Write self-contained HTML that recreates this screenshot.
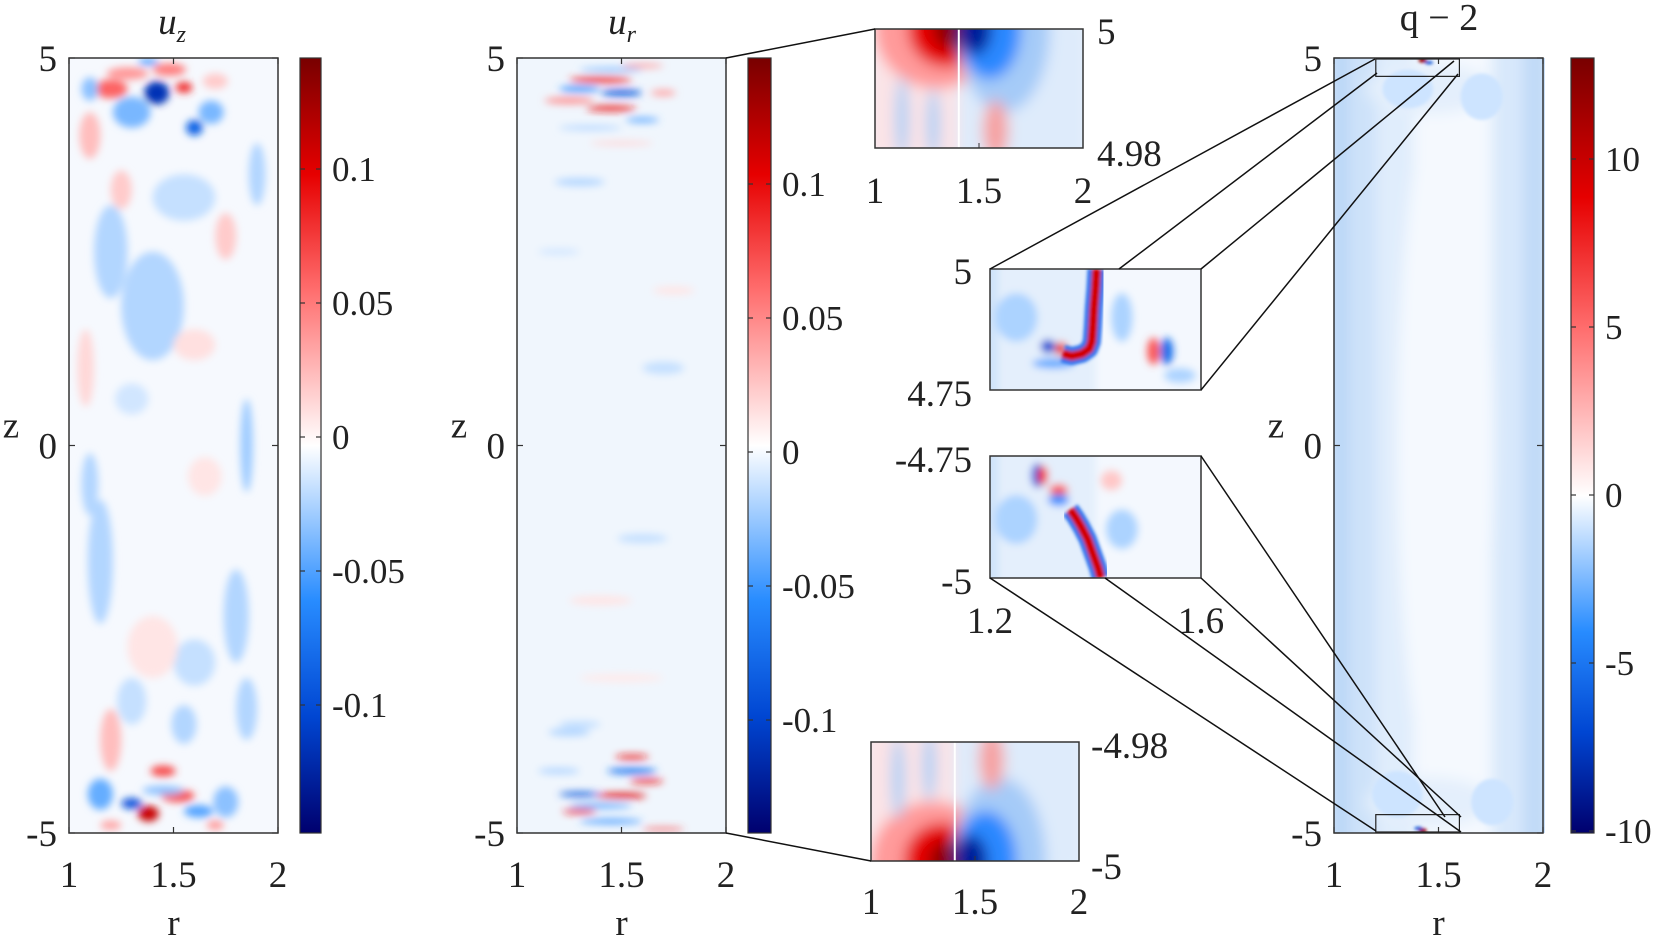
<!DOCTYPE html>
<html><head><meta charset="utf-8"><style>
html,body{margin:0;padding:0;background:#fff;}
svg{display:block;font-family:"Liberation Serif",serif;}
</style></head><body>
<svg id="fig" width="1661" height="941" viewBox="0 0 1661 941" xmlns="http://www.w3.org/2000/svg">
<defs>
<filter id="blur3" x="-20%" y="-20%" width="140%" height="140%"><feGaussianBlur stdDeviation="4"/></filter>
<filter id="blur6" x="-20%" y="-20%" width="140%" height="140%"><feGaussianBlur stdDeviation="7"/></filter>
<filter id="blur1" x="-20%" y="-20%" width="140%" height="140%"><feGaussianBlur stdDeviation="1.5"/></filter>
<linearGradient id="cbar" x1="0" y1="1" x2="0" y2="0">
<stop offset="0" stop-color="#00006e"/><stop offset="0.15" stop-color="#0046d2"/><stop offset="0.3" stop-color="#288cff"/><stop offset="0.5" stop-color="#ffffff"/><stop offset="0.7" stop-color="#ff6e6e"/><stop offset="0.85" stop-color="#e60000"/><stop offset="1" stop-color="#780000"/>
</linearGradient>
<linearGradient id="cbar3" x1="0" y1="1" x2="0" y2="0">
<stop offset="0" stop-color="#00006e"/><stop offset="0.13" stop-color="#0046d2"/><stop offset="0.26" stop-color="#288cff"/><stop offset="0.435" stop-color="#ffffff"/><stop offset="0.65" stop-color="#ff6e6e"/><stop offset="0.82" stop-color="#e60000"/><stop offset="1" stop-color="#780000"/>
</linearGradient>
<clipPath id="c1"><rect x="69" y="58" width="209" height="775"/></clipPath>
<clipPath id="c2"><rect x="517" y="58" width="209" height="775"/></clipPath>
<clipPath id="c3"><rect x="1334" y="58" width="211" height="775"/></clipPath>
<clipPath id="cti"><rect x="875" y="29" width="208" height="119"/></clipPath>
<clipPath id="cbi"><rect x="871" y="742" width="208" height="119"/></clipPath>
<clipPath id="cmu"><rect x="990" y="269" width="211" height="121"/></clipPath>
<clipPath id="cml"><rect x="990" y="456" width="211" height="122"/></clipPath>
</defs>
<g id="root"></g>
</svg>
<script>
// ---- data: blobs [r, z, rHalfWidth, zHalfHeight, value] ----
const uzBlobs = [
 [1.42,4.55,0.06,0.15,-0.11],[1.2,4.6,0.08,0.12,0.06],[1.55,4.62,0.04,0.07,0.08],[1.6,4.1,0.04,0.1,-0.08],
 [1.48,4.85,0.08,0.08,0.05],[1.3,4.3,0.09,0.2,-0.035],[1.68,4.3,0.06,0.15,-0.035],[1.1,4.0,0.05,0.3,0.025],
 [1.28,4.8,0.1,0.08,0.04],[1.38,4.95,0.05,0.04,-0.05],[1.7,4.7,0.06,0.1,0.02],[1.1,4.6,0.04,0.15,-0.03],
 [1.4,1.8,0.15,0.7,-0.02],[1.2,2.5,0.08,0.6,-0.02],[1.75,2.7,0.05,0.3,0.02],[1.85,0.0,0.03,0.6,-0.025],
 [1.55,3.2,0.15,0.3,-0.015],[1.25,3.3,0.05,0.25,0.02],[1.9,3.5,0.04,0.4,-0.02],[1.08,1.0,0.04,0.5,0.015],
 [1.6,1.3,0.1,0.2,0.012],[1.3,0.6,0.08,0.2,-0.012],[1.65,-0.4,0.08,0.25,0.01],[1.1,-0.5,0.04,0.4,-0.02],
 [1.15,-1.5,0.06,0.8,-0.02],[1.8,-2.2,0.06,0.6,-0.02],[1.6,-2.8,0.1,0.3,-0.015],[1.2,-3.8,0.05,0.4,0.025],
 [1.4,-2.6,0.12,0.4,0.01],[1.85,-3.4,0.05,0.4,-0.02],[1.3,-3.3,0.07,0.3,-0.015],
 [1.45,-4.2,0.06,0.07,0.07],[1.38,-4.75,0.05,0.1,0.11],[1.3,-4.62,0.05,0.07,-0.09],[1.52,-4.52,0.08,0.08,0.07],
 [1.62,-4.72,0.07,0.08,-0.045],[1.15,-4.5,0.06,0.2,-0.04],[1.75,-4.6,0.06,0.2,-0.03],[1.7,-4.9,0.04,0.06,0.04],
 [1.2,-4.9,0.05,0.06,0.035],[1.55,-3.6,0.06,0.25,-0.02],[1.45,-4.45,0.1,0.06,-0.03]
];
const urBlobs = [
 [1.4,4.72,0.15,0.04,0.08],[1.5,4.55,0.1,0.04,-0.09],[1.45,4.35,0.12,0.035,0.09],[1.3,4.6,0.1,0.04,-0.05],
 [1.6,4.2,0.08,0.03,-0.045],[1.25,4.45,0.12,0.04,0.045],[1.6,4.9,0.1,0.03,0.035],[1.7,4.55,0.06,0.04,0.035],
 [1.45,4.85,0.15,0.03,-0.03],[1.35,4.1,0.15,0.03,-0.02],[1.5,3.9,0.15,0.03,0.015],
 [1.3,3.4,0.12,0.05,-0.02],[1.7,1.0,0.1,0.08,-0.015],[1.4,-2.0,0.15,0.06,0.01],[1.6,-1.2,0.12,0.06,-0.015],
 [1.75,2.0,0.1,0.05,0.01],[1.2,2.5,0.1,0.04,-0.012],[1.5,-3.0,0.2,0.05,0.008],[1.3,-3.6,0.1,0.05,-0.015],
 [1.55,-4.02,0.08,0.03,0.09],[1.55,-4.2,0.12,0.04,-0.07],[1.62,-4.33,0.08,0.03,0.09],[1.5,-4.52,0.12,0.035,0.1],
 [1.3,-4.5,0.1,0.03,-0.09],[1.3,-4.72,0.08,0.03,0.09],[1.45,-4.85,0.15,0.03,-0.05],[1.4,-4.65,0.15,0.03,-0.045],
 [1.7,-4.95,0.1,0.02,0.07],[1.25,-3.7,0.1,0.05,-0.02],[1.2,-4.2,0.1,0.04,-0.02]
];
const qBlobs = [
 [1.42,4.97,0.02,0.03,12],[1.45,4.94,0.02,0.02,-9],[1.42,-4.97,0.02,0.03,12],[1.4,-4.94,0.02,0.02,-9],
 [1.35,4.6,0.12,0.25,-1.2],[1.7,4.5,0.1,0.3,-1.2],[1.3,-4.5,0.12,0.3,-1.2],[1.75,-4.6,0.1,0.3,-1.2]
];
const upperR = [1.402,1.400,1.397,1.395,1.393,1.388,1.375,1.355,1.338];
const upperZ = [5.0,4.96,4.92,4.88,4.85,4.835,4.825,4.82,4.825];
const lowerR = [1.41,1.405,1.395,1.385,1.373,1.362,1.352];
const lowerZ = [-5.0,-4.98,-4.95,-4.92,-4.895,-4.875,-4.86];
const uzTicks=[0.1,0.05,0,-0.05,-0.1], urTicks=[0.1,0.05,0,-0.05,-0.1], qTicks=[10,5,0,-5,-10];

const NS='http://www.w3.org/2000/svg';
const root=document.getElementById('root');
const FS=37;
function el(tag,attrs,parent){const e=document.createElementNS(NS,tag);for(const k in attrs)e.setAttribute(k,attrs[k]);(parent||root).appendChild(e);return e;}
function txt(x,y,s,anchor,size,parent,name){const t=el('text',{x:x,y:y,'text-anchor':anchor||'middle','font-size':size||FS,fill:'#222'},parent);t.textContent=s;
 
 
 return t;}
const stops=[[-1,[0,0,110]],[-0.7,[0,70,210]],[-0.4,[40,140,255]],[0,[255,255,255]],[0.4,[255,110,110]],[0.7,[230,0,0]],[1,[120,0,0]]];
function cmap(t){t=Math.max(-1,Math.min(1,t));for(let i=0;i<stops.length-1;i++){const a=stops[i],b=stops[i+1];if(t<=b[0]){const f=(t-a[0])/(b[0]-a[0]);const c=a[1].map((v,j)=>Math.round(v+(b[1][j]-v)*f));return 'rgb('+c.join(',')+')';}}return 'rgb(120,0,0)';}
function axes(x0,y0,w,h,r0,r1,z0,z1){return {x:r=>x0+(r-r0)/(r1-r0)*w,y:z=>y0+(z1-z)/(z1-z0)*h};}

function panel(name,x0,y0,w,h,bg,blobs,vmax,clip){
 const A=axes(x0,y0,w,h,1,2,-5,5);
 const g=el('g',{'clip-path':'url(#'+clip+')'});
 
 
 el('rect',{x:x0,y:y0,width:w,height:h,fill:bg},g);
 const bg2=el('g',{filter:'url(#blur3)'},g);
 blobs.forEach(b=>{
  const e=el('ellipse',{cx:A.x(b[0]),cy:A.y(b[1]),rx:Math.abs(A.x(b[0]+b[2])-A.x(b[0])),ry:Math.abs(A.y(b[1]+b[3])-A.y(b[1])),fill:cmap(b[4]/vmax)},bg2);
  
  
 });
 return A;
}
function mainAxes(name,x0){
 const y0=58,w=209,h=775;const A=axes(x0,y0,w,h,1,2,-5,5);
 const f=el('rect',{x:x0,y:y0,width:w,height:h,fill:'none',stroke:'#333','stroke-width':1.5});
 
 
 [1,1.5,2].forEach(r=>{el('line',{x1:A.x(r),x2:A.x(r),y1:y0+h,y2:y0+h-6,stroke:'#333','stroke-width':1.2});el('line',{x1:A.x(r),x2:A.x(r),y1:y0,y2:y0+6,stroke:'#333','stroke-width':1.2});
  txt(A.x(r),887,String(r),'middle',FS,null,name+'-x-tick');});
 [5,0,-5].forEach(z=>{el('line',{x1:x0,x2:x0+6,y1:A.y(z),y2:A.y(z),stroke:'#333','stroke-width':1.2});el('line',{x1:x0+w,x2:x0+w-6,y1:A.y(z),y2:A.y(z),stroke:'#333','stroke-width':1.2});
  txt(x0-12,A.y(z)+13,String(z),'end',FS,null,name+'-y-tick');});
 txt(x0-58,A.y(0)-8,'z','middle',FS,null,name+'-y-axis-title');
 txt(A.x(1.5),935,'r','middle',FS,null,name+'-x-axis-title');
 return A;
}
function colorbar(name,x,w,grad,ticks,yOf){
 const r=el('rect',{x:x,y:58,width:w,height:775,fill:'url(#'+grad+')',stroke:'#333','stroke-width':1.2});
 
 
 ticks.forEach(v=>{const y=yOf(v);el('line',{x1:x,x2:x+5,y1:y,y2:y,stroke:'#333','stroke-width':1.2});el('line',{x1:x+w,x2:x+w-5,y1:y,y2:y,stroke:'#333','stroke-width':1.2});
  txt(x+w+11,y+12,String(v),'start',35,null,name+'-colorbar-tick');});
}

panel('uz',69,58,209,775,'#f6f9fe',uzBlobs,0.14,'c1');
mainAxes('uz',69);
const t1=txt(172,34,'','middle',FS,null,'uz-title');t1.innerHTML='<tspan font-style="italic">u</tspan><tspan font-style="italic" font-size="24" dy="8">z</tspan>';
colorbar('uz',300,21,'cbar',uzTicks,v=>437-v/0.05*134);

panel('ur',517,58,209,775,'#f0f6fd',urBlobs,0.14,'c2');
mainAxes('ur',517);
const t2=txt(622,34,'','middle',FS,null,'ur-title');t2.innerHTML='<tspan font-style="italic">u</tspan><tspan font-style="italic" font-size="24" dy="8">r</tspan>';
colorbar('ur',748,23,'cbar',urTicks,v=>452-v/0.05*134);

(function(){
 const A=axes(1334,58,211,775,1,2,-5,5);
 const g=el('g',{'clip-path':'url(#c3)'});
 
 
 el('rect',{x:1334,y:58,width:211,height:775,fill:'#d6e7fa'},g);
 const gg=el('g',{filter:'url(#blur6)'},g);
 const bands=[[1,1.06,'#b3d2f5'],[1.06,1.2,'#cde2f9'],[1.2,1.38,'#e0edfc'],[1.38,1.75,'#f5f9fe'],[1.75,1.9,'#d8e8fb'],[1.9,2,'#bfd9f7']];
 bands.forEach(b=>el('rect',{x:A.x(b[0]),y:30,width:A.x(b[1])-A.x(b[0]),height:830,fill:b[2]},gg));
 el('ellipse',{cx:A.x(1.53),cy:A.y(0),rx:A.x(1.53)-A.x(1.3),ry:A.y(0)-A.y(4.7),fill:'#f5f9fe'},gg);
 el('ellipse',{cx:A.x(1.45),cy:A.y(4.6),rx:A.x(1.45)-A.x(1.15),ry:25,fill:'#e4effc'},gg);
 el('ellipse',{cx:A.x(1.45),cy:A.y(-4.6),rx:A.x(1.45)-A.x(1.15),ry:25,fill:'#e4effc'},gg);
 const gq=el('g',{filter:'url(#blur1)'},g);
 qBlobs.forEach(b=>{const e=el('ellipse',{cx:A.x(b[0]),cy:A.y(b[1]),rx:Math.abs(A.x(b[0]+b[2])-A.x(b[0])),ry:Math.abs(A.y(b[1]+b[3])-A.y(b[1])),fill:cmap(b[4]/13)},gq);
  
  });
})();
const A3=mainAxes('q',1334);
txt(1439,30,'q − 2','middle',38,null,'q-title');
colorbar('q',1571,23,'cbar3',qTicks,v=>495-v/5*168);
[[4.75,5],[-5,-4.75]].forEach((zz,i)=>{const r=el('rect',{x:A3.x(1.2),y:A3.y(zz[1])+1,width:A3.x(1.6)-A3.x(1.2),height:A3.y(zz[0])-A3.y(zz[1])-2,fill:'none',stroke:'#222','stroke-width':1.2});
 
 });

function wallInset(name,x0,y0,w,h,clip,top){
 const g=el('g',{'clip-path':'url(#'+clip+')'});
 
 
 el('rect',{x:x0,y:y0,width:w,height:h,fill:'#eef5fd'},g);
 const A=axes(x0,y0,w,h,1,2,0,1);
 const gg=el('g',{filter:'url(#blur6)'},g);
 const wallY=top?y0:y0+h;
 el('rect',{x:A.x(0.98),y:y0-10,width:A.x(1.4)-A.x(0.98),height:h+20,fill:'#fbe3e6'},gg);
 el('rect',{x:A.x(1.4),y:y0-10,width:A.x(2.02)-A.x(1.4),height:h+20,fill:'#deebfb'},gg);
 el('ellipse',{cx:A.x(1.3),cy:wallY,rx:A.x(1.3)-A.x(1.0),ry:h*0.5,fill:'#ff9a9a'},gg);
 el('ellipse',{cx:A.x(1.34),cy:wallY,rx:A.x(1.34)-A.x(1.16),ry:h*0.32,fill:'#e60000'},gg);
 el('ellipse',{cx:A.x(1.38),cy:wallY,rx:A.x(1.38)-A.x(1.28),ry:h*0.18,fill:'#8c0000'},gg);
 el('ellipse',{cx:A.x(1.62),cy:wallY,rx:A.x(1.62)-A.x(1.4),ry:h*0.7,fill:'#a5cbf8'},gg);
 el('ellipse',{cx:A.x(1.55),cy:wallY,rx:A.x(1.55)-A.x(1.4),ry:h*0.42,fill:'#2a88ff'},gg);
 el('ellipse',{cx:A.x(1.48),cy:wallY,rx:A.x(1.48)-A.x(1.4),ry:h*0.22,fill:'#001e9a'},gg);
 el('ellipse',{cx:A.x(1.13),cy:top?y0+h*0.75:y0+h*0.3,rx:A.x(1.13)-A.x(1.1),ry:h*0.35,fill:'#a9cff7'},gg);
 el('ellipse',{cx:A.x(1.28),cy:top?y0+h*0.8:y0+h*0.2,rx:A.x(1.28)-A.x(1.25),ry:h*0.3,fill:'#a9cff7'},gg);
 el('ellipse',{cx:A.x(1.58),cy:top?y0+h*0.85:y0+h*0.15,rx:A.x(1.58)-A.x(1.52),ry:h*0.25,fill:'#f6a0a0'},gg);
 el('rect',{x:A.x(1.398),y:y0,width:2,height:h,fill:'#ffffff'},g);
 const f=el('rect',{x:x0,y:y0,width:w,height:h,fill:'none',stroke:'#333','stroke-width':1.5});
 
 
 [1,1.5,2].forEach(r=>{el('line',{x1:A.x(r),x2:A.x(r),y1:y0+h,y2:y0+h-5,stroke:'#333'});});
 return A;
}
const AT=wallInset('top-wall-inset',875,29,208,119,'cti',true);
[1,1.5,2].forEach(r=>txt(AT.x(r),203,String(r),'middle',FS,null,'top-inset-x-tick'));
txt(1097,44,'5','start',FS,null,'top-inset-y-tick');txt(1097,166,'4.98','start',FS,null,'top-inset-y-tick');
const AB=wallInset('bottom-wall-inset',871,742,208,119,'cbi',false);
[1,1.5,2].forEach(r=>txt(AB.x(r),914,String(r),'middle',FS,null,'bottom-inset-x-tick'));
txt(1091,758,'-4.98','start',FS,null,'bottom-inset-y-tick');txt(1091,879,'-5','start',FS,null,'bottom-inset-y-tick');

function vortexInset(name,y0,h,clip,z0,z1,R,Z,extra){
 const x0=990,w=211;const A=axes(x0,y0,w,h,1.2,1.6,z0,z1);
 const g=el('g',{'clip-path':'url(#'+clip+')'});
 
 
 el('rect',{x:x0,y:y0,width:w,height:h,fill:'#f4f8fe'},g);
 const gb=el('g',{filter:'url(#blur3)'},g);
 el('rect',{x:x0-10,y:y0-10,width:w*0.55,height:h+20,fill:'#e4effc'},gb);
 el('rect',{x:x0-10,y:y0-10,width:18,height:h+20,fill:'#cfe3f9'},gb);
 extra.forEach(b=>el('ellipse',{cx:A.x(b[0]),cy:A.y(b[1]),rx:Math.abs(A.x(b[0]+b[2])-A.x(b[0])),ry:Math.abs(A.y(b[1]+b[3])-A.y(b[1])),fill:cmap(b[4]/13)},gb));
 const pts=R.map((r,i)=>A.x(r)+','+A.y(Z[i])).join(' ');
 const gs=el('g',{filter:'url(#blur1)'},g);
 el('polyline',{points:pts,fill:'none',stroke:'#2a72ee','stroke-width':18,'stroke-linejoin':'round'},gs);
 const p=el('polyline',{points:pts,fill:'none',stroke:'#d00000','stroke-width':9,'stroke-linejoin':'round'},gs);
 
 
 const f=el('rect',{x:x0,y:y0,width:w,height:h,fill:'none',stroke:'#333','stroke-width':1.5});
 
 
 return A;
}
vortexInset('upper-vortex-inset',269,121,'cmu',4.75,5,upperR,upperZ,[[1.31,4.84,0.014,0.014,-9],[1.335,4.835,0.012,0.014,8],[1.51,4.83,0.012,0.028,6],[1.535,4.83,0.012,0.028,-7],[1.32,4.805,0.04,0.01,-4],[1.45,4.9,0.02,0.05,-2],[1.25,4.9,0.04,0.05,-2],[1.56,4.78,0.03,0.015,-2]]);
vortexInset('lower-vortex-inset',456,122,'cml',-5,-4.75,lowerR,lowerZ,[[1.29,-4.79,0.012,0.025,-8],[1.3,-4.79,0.01,0.02,7],[1.33,-4.82,0.018,0.012,6],[1.33,-4.84,0.02,0.012,-5],[1.43,-4.8,0.02,0.02,2],[1.25,-4.88,0.04,0.05,-2],[1.45,-4.9,0.03,0.04,-2]]);
txt(972,284,'5','end',FS,null,'upper-inset-y-tick');txt(972,406,'4.75','end',FS,null,'upper-inset-y-tick');
txt(972,472,'-4.75','end',FS,null,'lower-inset-y-tick');txt(972,594,'-5','end',FS,null,'lower-inset-y-tick');
txt(990,633,'1.2','middle',FS,null,'lower-inset-x-tick');txt(1201,633,'1.6','middle',FS,null,'lower-inset-x-tick');

const conns=[[726,58,875,29],[726,833,871,861],
 [990,269,1375,59],[1119,269,1377,73],[1201,269,1454,61],[1201,390,1458,74],
 [990,578,1376,831],[1105,578,1461,832],[1201,578,1461,817],[1201,456,1445,817]];
conns.forEach(c=>{const l=el('line',{x1:c[0],y1:c[1],x2:c[2],y2:c[3],stroke:'#111','stroke-width':1.5});
 
 });
</script>
</body></html>
